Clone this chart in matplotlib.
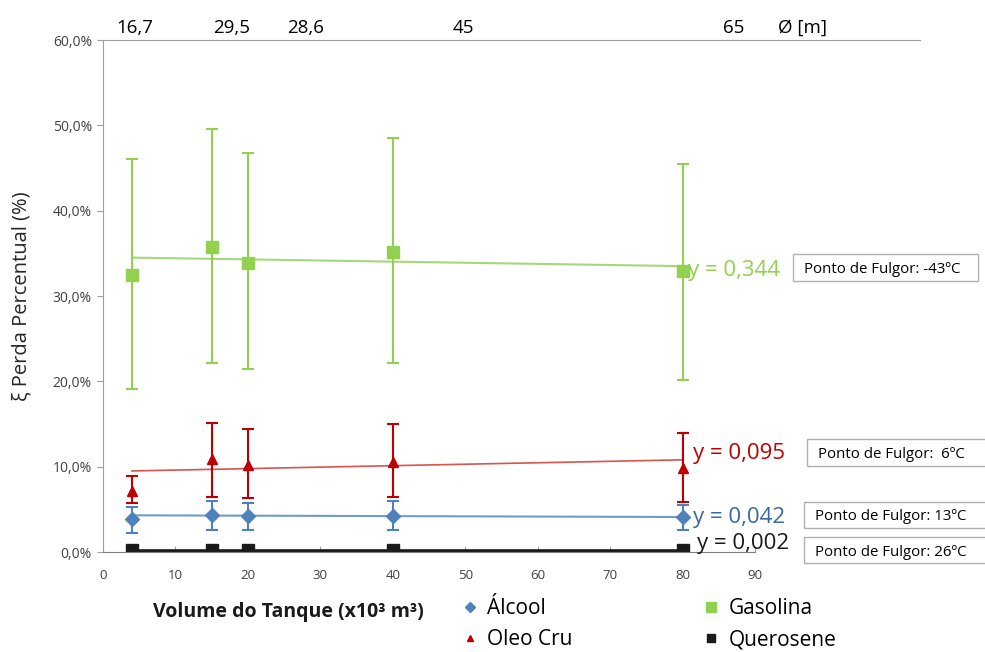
import matplotlib
matplotlib.use('Agg')
from matplotlib import pyplot as plt
from matplotlib.patches import Rectangle
from matplotlib.lines import Line2D
from matplotlib.ticker import FuncFormatter

plt.rcParams['font.family'] = ['Open Sans', 'DejaVu Sans']

# volumes dos tanques (x10^3 m3)
volumes = [4, 15, 20, 40, 80]

# perdas (fração) e limites das barras de erro
alcool = [0.039, 0.043, 0.042, 0.042, 0.041]
alcool_sup = [0.053, 0.060, 0.057, 0.060, 0.055]
alcool_inf = [0.022, 0.026, 0.026, 0.026, 0.026]

oleo = [0.072, 0.109, 0.102, 0.106, 0.099]
oleo_sup = [0.089, 0.151, 0.144, 0.150, 0.140]
oleo_inf = [0.057, 0.065, 0.063, 0.065, 0.059]

gasolina = [0.325, 0.357, 0.339, 0.351, 0.329]
gasolina_sup = [0.461, 0.496, 0.467, 0.485, 0.455]
gasolina_inf = [0.191, 0.221, 0.214, 0.221, 0.202]

querosene = [0.002, 0.002, 0.002, 0.002, 0.002]

# linhas de tendência (valores nas extremidades x=4 e x=80)
tend_x = [4, 80]
tend_alcool = [0.043, 0.041]
tend_oleo = [0.095, 0.108]
tend_gasolina = [0.345, 0.335]
tend_querosene = [0.0015, 0.0015]

eq_labels = ['y = 0,344', 'y = 0,095', 'y = 0,042', 'y = 0,002']
fulgor = ['Ponto de Fulgor: -43ºC', 'Ponto de Fulgor:  6ºC',
          'Ponto de Fulgor: 13ºC', 'Ponto de Fulgor: 26ºC']

diametros = ['16,7', '29,5', '28,6', '45', '65', 'Ø [m]']
diam_pos = [4.4, 17.8, 27.9, 49.7, 87.0, 96.5]

verde = '#92D050'
vermelho = '#C00000'
azul = '#4F81BD'
preto = '#1A1A1A'

fig = plt.figure(figsize=(9.85, 6.52), dpi=100)
ax = fig.add_axes([103 / 985, 100 / 652, 817 / 985, 512 / 652])

ax.plot(tend_x, tend_gasolina, color='#A6D77A', lw=1.5)
ax.plot(tend_x, tend_oleo, color='#D9534F', lw=1.2)
ax.plot(tend_x, tend_alcool, color='#4F81BD', lw=1.5, alpha=0.8)
ax.plot(tend_x, tend_querosene, color=preto, lw=2.6)

def barras(y, sup, inf):
    return [[a - b for a, b in zip(y, inf)], [b - a for a, b in zip(y, sup)]]

ax.errorbar(volumes, gasolina, yerr=barras(gasolina, gasolina_sup, gasolina_inf),
            fmt='s', color=verde, ms=9, elinewidth=1.5, capsize=4, capthick=1.5)
ax.errorbar(volumes, oleo, yerr=barras(oleo, oleo_sup, oleo_inf),
            fmt='^', color=vermelho, ms=7, elinewidth=1.5, capsize=4, capthick=1.5)
ax.errorbar(volumes, alcool, yerr=barras(alcool, alcool_sup, alcool_inf),
            fmt='D', color=azul, ms=7, elinewidth=1.5, capsize=4, capthick=1.5)
ax.plot(volumes, querosene, 's', color=preto, ms=8)

ax.set_xlim(0, 90 * 817 / 652)
ax.set_ylim(0, 0.6)
ax.set_xticks(range(0, 100, 10))
ax.set_yticks([0, 0.1, 0.2, 0.3, 0.4, 0.5, 0.6])
ax.yaxis.set_major_formatter(FuncFormatter(lambda v, p: f'{v * 100:.1f}%'.replace('.', ',')))
ax.tick_params(axis='x', direction='in', length=4, labelsize=9.5, labelcolor='#404040',
               color='#A0A0A0', pad=12)
ax.tick_params(axis='y', direction='out', length=4, labelsize=10, labelcolor='#404040',
               color='#A0A0A0', pad=4)
ax.spines['right'].set_visible(False)
ax.spines['bottom'].set_bounds(0, 90)
for s in ['left', 'bottom', 'top']:
    ax.spines[s].set_color('#A0A0A0')
ax.spines['bottom'].set_color('#808080')

topo = ax.secondary_xaxis('top')
topo.set_xticks(diam_pos)
topo.set_xticklabels(diametros)
topo.tick_params(length=0, labelsize=13.5, pad=2)
topo.spines['top'].set_visible(False)

ax.set_ylabel('ξ Perda Percentual (%)', fontsize=14.5, color='#262626')
ax.yaxis.set_label_coords(-0.087, 0.5)
fig.text(153 / 985, 1 - 612 / 652, 'Volume do Tanque (x10³ m³)', fontsize=14,
         fontweight='bold', va='center', ha='left', color='#1A1A1A')

eq_cores = [verde, vermelho, '#3A66A5', preto]
eq_y = [0.330, 0.115, 0.041, 0.010]
eq_x = [80.7, 81.5, 81.5, 82.0]
for t, c, xx, yy in zip(eq_labels, eq_cores, eq_x, eq_y):
    ax.text(xx, yy, t, color=c, fontsize=16, va='center', ha='left')

caixas = [(793, 254, 185, 27), (807, 439, 190, 27), (804, 502, 190, 26), (804, 537, 190, 26)]
for (bx, by, bw, bh), t in zip(caixas, fulgor):
    fig.add_artist(Rectangle((bx / 985, 1 - (by + bh) / 652), bw / 985, bh / 652,
                             transform=fig.transFigure, fill=False, edgecolor='#B0B0B0', lw=1))
    fig.text((bx + 11) / 985, 1 - (by + bh / 2 + 2) / 652, t, fontsize=10.8, va='center', ha='left')

handles = [
    Line2D([], [], marker='D', color=azul, ls='', ms=5),
    Line2D([], [], marker='^', color=vermelho, ls='', ms=5),
    Line2D([], [], marker='s', color=verde, ls='', ms=7.5),
    Line2D([], [], marker='s', color=preto, ls='', ms=6),
]
fig.legend(handles, ['Álcool', 'Oleo Cru', 'Gasolina', 'Querosene'], ncol=2,
           loc='center left', bbox_to_anchor=(443 / 985, 1 - 624 / 652), frameon=False,
           fontsize=15, handletextpad=0.45, columnspacing=6.3, labelspacing=0.5,
           handlelength=0.75, borderpad=0.4)

fig.savefig('out.png', dpi=100)
